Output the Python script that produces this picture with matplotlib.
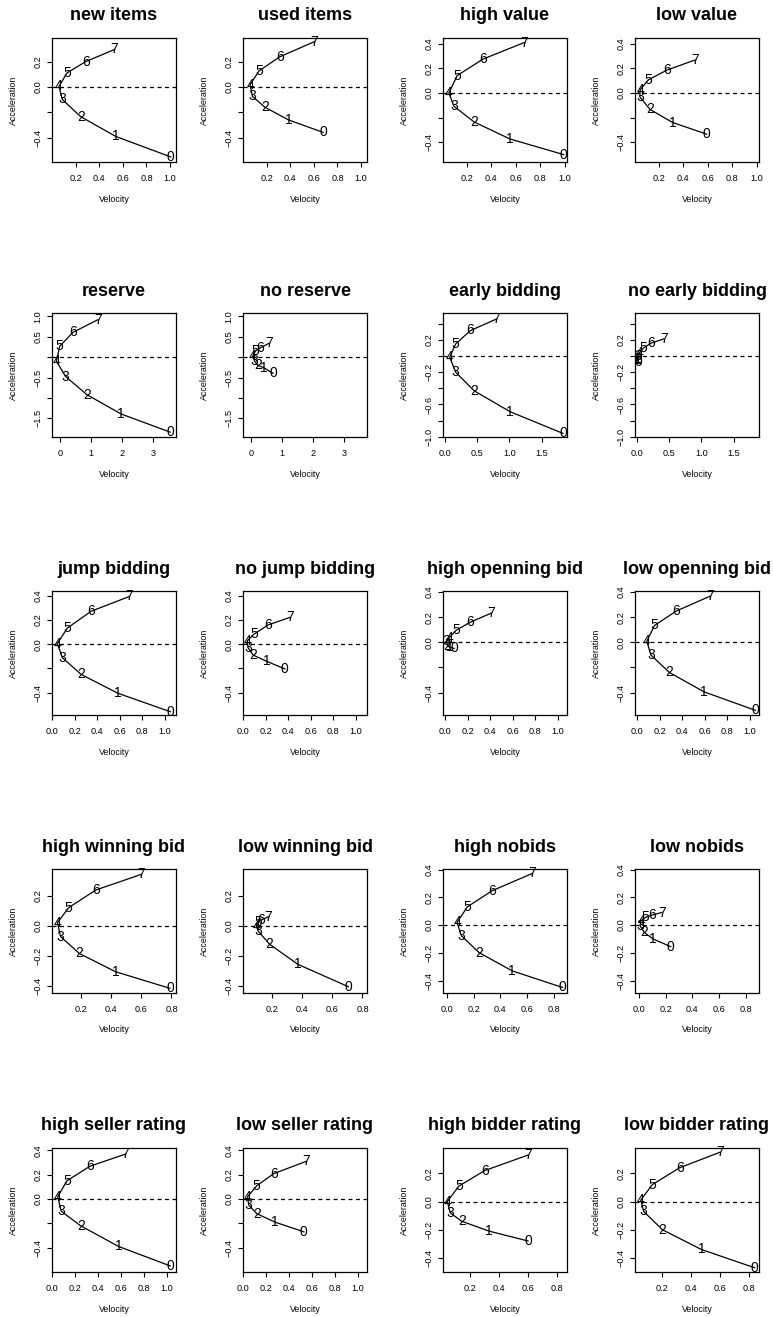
import matplotlib
matplotlib.use('Agg')
import matplotlib.pyplot as plt

plt.rcParams['font.family'] = ['Liberation Sans', 'DejaVu Sans']
plt.rcParams['axes.unicode_minus'] = True

# --- data: (velocity, acceleration) at t = 0..7 for each panel ---
titles = ['new items', 'used items', 'high value', 'low value',
          'reserve', 'no reserve', 'early bidding', 'no early bidding',
          'jump bidding', 'no jump bidding', 'high openning bid', 'low openning bid',
          'high winning bid', 'low winning bid', 'high nobids', 'low nobids',
          'high seller rating', 'low seller rating', 'high bidder rating', 'low bidder rating']

velocity = [
    [1.006, 0.54, 0.243, 0.087, 0.059, 0.127, 0.285, 0.53],
    [0.679, 0.386, 0.186, 0.08, 0.06, 0.136, 0.311, 0.604],
    [0.989, 0.551, 0.26, 0.096, 0.056, 0.124, 0.333, 0.668],
    [0.59, 0.314, 0.13, 0.047, 0.05, 0.117, 0.27, 0.494],
    [3.54, 1.96, 0.855, 0.17, -0.13, -0.02, 0.405, 1.21],
    [0.70, 0.40, 0.21, 0.10, 0.05, 0.13, 0.29, 0.56],
    [1.83, 1.01, 0.455, 0.17, 0.078, 0.17, 0.40, 0.80],
    [0.03, 0.02, 0.01, 0.02, 0.04, 0.10, 0.22, 0.42],
    [1.047, 0.582, 0.259, 0.092, 0.047, 0.136, 0.347, 0.685],
    [0.37, 0.207, 0.089, 0.044, 0.038, 0.098, 0.222, 0.415],
    [0.079, 0.04, 0.019, 0.013, 0.034, 0.094, 0.222, 0.408],
    [1.048, 0.593, 0.285, 0.121, 0.085, 0.153, 0.345, 0.644],
    [0.79, 0.43, 0.19, 0.067, 0.046, 0.12, 0.30, 0.60],
    [0.707, 0.373, 0.186, 0.109, 0.098, 0.109, 0.13, 0.179],
    [0.866, 0.488, 0.24, 0.108, 0.075, 0.153, 0.338, 0.64],
    [0.238, 0.107, 0.04, 0.008, 0.015, 0.045, 0.095, 0.17],
    [1.03, 0.58, 0.25, 0.08, 0.05, 0.13, 0.33, 0.64],
    [0.53, 0.28, 0.12, 0.05, 0.04, 0.12, 0.27, 0.55],
    [0.60, 0.33, 0.14, 0.06, 0.04, 0.12, 0.30, 0.60],
    [0.84, 0.47, 0.20, 0.07, 0.05, 0.13, 0.32, 0.60],
]

acceleration = [
    [-0.55, -0.389, -0.233, -0.098, 0.005, 0.111, 0.20, 0.296],
    [-0.357, -0.259, -0.159, -0.074, 0.019, 0.127, 0.238, 0.357],
    [-0.50, -0.373, -0.235, -0.107, 0.0, 0.141, 0.274, 0.408],
    [-0.334, -0.24, -0.134, -0.032, 0.026, 0.106, 0.186, 0.266],
    [-1.84, -1.395, -0.92, -0.476, -0.095, 0.27, 0.61, 0.92],
    [-0.395, -0.26, -0.20, -0.095, 0.03, 0.15, 0.23, 0.337],
    [-0.96, -0.69, -0.43, -0.20, -0.014, 0.152, 0.318, 0.46],
    [-0.07, -0.05, -0.03, 0.0, 0.04, 0.098, 0.16, 0.214],
    [-0.558, -0.405, -0.25, -0.112, 0.005, 0.134, 0.273, 0.395],
    [-0.204, -0.14, -0.089, -0.028, 0.028, 0.084, 0.159, 0.222],
    [-0.048, -0.04, -0.026, 0.008, 0.035, 0.094, 0.16, 0.232],
    [-0.541, -0.394, -0.24, -0.101, 0.008, 0.134, 0.248, 0.366],
    [-0.416, -0.305, -0.183, -0.071, 0.022, 0.122, 0.24, 0.344],
    [-0.405, -0.256, -0.122, -0.033, 0.002, 0.029, 0.04, 0.062],
    [-0.45, -0.33, -0.198, -0.077, 0.019, 0.132, 0.248, 0.373],
    [-0.155, -0.101, -0.053, -0.005, 0.031, 0.055, 0.072, 0.091],
    [-0.55, -0.39, -0.22, -0.10, 0.02, 0.15, 0.27, 0.37],
    [-0.27, -0.19, -0.12, -0.05, 0.02, 0.11, 0.21, 0.31],
    [-0.28, -0.21, -0.14, -0.08, 0.0, 0.11, 0.22, 0.33],
    [-0.47, -0.34, -0.20, -0.07, 0.01, 0.12, 0.24, 0.35],
]

time_labels = ['0', '1', '2', '3', '4', '5', '6', '7']

# axis settings, one entry per pair of panels
pair_xlim = [(0.0, 1.05), (0.008, 1.016), (-0.27, 3.73), (-0.026, 1.89), (0.0, 1.097),
             (-0.02, 1.08), (0.01, 0.83), (-0.03, 0.90), (0.0, 1.08), (0.01, 0.87)]
pair_ylim = [(-0.59, 0.386), (-0.56, 0.445), (-1.96, 1.085), (-1.004, 0.535), (-0.585, 0.44),
             (-0.578, 0.408), (-0.447, 0.38), (-0.49, 0.405), (-0.6, 0.42), (-0.5, 0.38)]
pair_xticks = [
    [0.2, 0.4, 0.6, 0.8, 1.0],
    [0.2, 0.4, 0.6, 0.8, 1.0],
    [0, 1, 2, 3],
    [0.0, 0.5, 1.0, 1.5],
    [0.0, 0.2, 0.4, 0.6, 0.8, 1.0],
    [0.0, 0.2, 0.4, 0.6, 0.8, 1.0],
    [0.2, 0.4, 0.6, 0.8],
    [0.0, 0.2, 0.4, 0.6, 0.8],
    [0.0, 0.2, 0.4, 0.6, 0.8, 1.0],
    [0.2, 0.4, 0.6, 0.8],
]
pair_xlabels = [
    ['0.2', '0.4', '0.6', '0.8', '1.0'],
    ['0.2', '0.4', '0.6', '0.8', '1.0'],
    ['0', '1', '2', '3'],
    ['0.0', '0.5', '1.0', '1.5'],
    ['0.0', '0.2', '0.4', '0.6', '0.8', '1.0'],
    ['0.0', '0.2', '0.4', '0.6', '0.8', '1.0'],
    ['0.2', '0.4', '0.6', '0.8'],
    ['0.0', '0.2', '0.4', '0.6', '0.8'],
    ['0.0', '0.2', '0.4', '0.6', '0.8', '1.0'],
    ['0.2', '0.4', '0.6', '0.8'],
]
pair_yticks = [
    [-0.4, -0.2, 0.0, 0.2],
    [-0.4, -0.2, 0.0, 0.2, 0.4],
    [-1.5, -1.0, -0.5, 0.0, 0.5, 1.0],
    [-1.0, -0.8, -0.6, -0.4, -0.2, 0.0, 0.2, 0.4],
    [-0.4, -0.2, 0.0, 0.2, 0.4],
    [-0.4, -0.2, 0.0, 0.2, 0.4],
    [-0.4, -0.2, 0.0, 0.2],
    [-0.4, -0.2, 0.0, 0.2, 0.4],
    [-0.4, -0.2, 0.0, 0.2, 0.4],
    [-0.4, -0.2, 0.0, 0.2],
]
pair_ylabels = [
    ['\u22120.4', '', '0.0', '0.2'],
    ['\u22120.4', '', '0.0', '0.2', '0.4'],
    ['\u22121.5', '', '\u22120.5', '', '0.5', '1.0'],
    ['\u22121.0', '', '\u22120.6', '', '\u22120.2', '', '0.2', ''],
    ['\u22120.4', '', '0.0', '0.2', '0.4'],
    ['\u22120.4', '', '0.0', '0.2', '0.4'],
    ['\u22120.4', '\u22120.2', '0.0', '0.2'],
    ['\u22120.4', '\u22120.2', '0.0', '0.2', '0.4'],
    ['\u22120.4', '', '0.0', '0.2', '0.4'],
    ['\u22120.4', '\u22120.2', '0.0', '0.2'],
]

# --- layout in pixels ---
W, H = 773, 1317
col_left = [52, 243, 443, 635]
row_top = [38, 313, 591, 869, 1148]
box = 124

fig = plt.figure(figsize=(W / 100, H / 100), dpi=100)

for i, title in enumerate(titles):
    r, c = divmod(i, 4)
    p = i // 2
    ax = fig.add_axes([col_left[c] / W, 1 - (row_top[r] + box) / H, box / W, box / H])

    ax.plot(velocity[i], acceleration[i], color='black', linewidth=0.9, zorder=2)
    for v, a, lab in zip(velocity[i], acceleration[i], time_labels):
        ax.text(v, a, lab, ha='center', va='center', fontsize=10, zorder=3)
    ax.axhline(0, color='black', linewidth=0.9, linestyle=(0, (3.2, 2.8)), zorder=1)

    ax.set_xlim(pair_xlim[p])
    ax.set_ylim(pair_ylim[p])
    ax.set_xticks(pair_xticks[p])
    ax.set_xticklabels(pair_xlabels[p])
    ax.set_yticks(pair_yticks[p])
    ax.set_yticklabels(pair_ylabels[p], rotation=90, va='center')
    ax.tick_params(direction='out', length=3.6, width=0.8, labelsize=6.6)
    ax.tick_params(axis='x', pad=5.0)
    ax.tick_params(axis='y', pad=3.0)
    for s in ax.spines.values():
        s.set_linewidth(0.9)

    ax.text(0.5, 1 + 22 / box, title, transform=ax.transAxes, ha='center', va='center',
            fontsize=13, fontweight='bold')
    ax.text(0.5, -37 / box, 'Velocity', transform=ax.transAxes, ha='center', va='center',
            fontsize=6.4)
    ax.text(-39 / box, 0.5, 'Acceleration', transform=ax.transAxes, ha='center', va='center',
            rotation=90, fontsize=6.4)

fig.savefig('out.png', dpi=100, facecolor='white')
